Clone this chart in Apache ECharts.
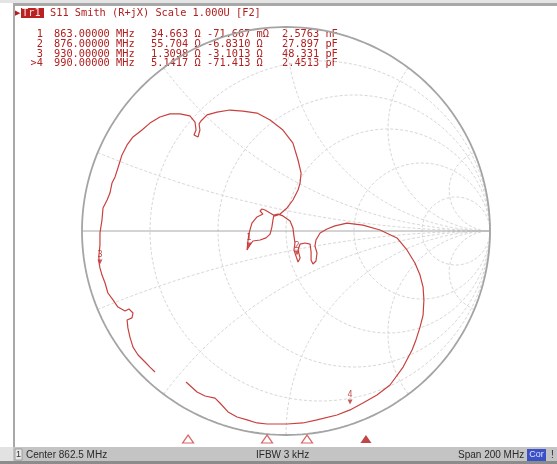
<!DOCTYPE html>
<html><head><meta charset="utf-8">
<script src="https://cdn.jsdelivr.net/npm/echarts@6/dist/echarts.min.js"></script>
<style>html,body{margin:0;padding:0;background:#fff}#c{width:557px;height:464px}</style>
</head><body><div id="c"></div>
<script>
// ---- data (reflection coefficient plane, Re/Im of Gamma) ----
const traceGamma = [
[-0.642,-0.691],[-0.667,-0.667],[-0.691,-0.642],[-0.725,-0.608],[-0.750,-0.569],[-0.765,-0.520],
[-0.775,-0.475],[-0.779,-0.436],[-0.755,-0.426],[-0.750,-0.402],[-0.770,-0.382],[-0.789,-0.392],
[-0.824,-0.373],[-0.848,-0.338],[-0.873,-0.304],[-0.887,-0.255],[-0.902,-0.216],[-0.912,-0.181],
[-0.917,-0.152],[-0.917,-0.118],[-0.912,-0.069],[-0.912,-0.010],[-0.902,0.054],[-0.897,0.113],
[-0.877,0.152],[-0.863,0.186],[-0.853,0.235],[-0.838,0.265],[-0.824,0.309],[-0.804,0.373],
[-0.779,0.422],[-0.750,0.461],[-0.706,0.495],[-0.667,0.529],[-0.618,0.559],[-0.569,0.574],
[-0.520,0.574],[-0.471,0.564],[-0.446,0.534],[-0.441,0.495],[-0.451,0.471],[-0.431,0.461],
[-0.422,0.495],[-0.426,0.525],[-0.417,0.539],[-0.387,0.569],[-0.338,0.583],[-0.275,0.593],
[-0.211,0.588],[-0.142,0.578],[-0.078,0.544],[-0.015,0.495],[0.034,0.431],[0.059,0.348],
[0.074,0.284],[0.069,0.235],[0.059,0.201],[0.034,0.152],[0.005,0.113],[-0.029,0.083],
[-0.054,0.074],[-0.078,0.088],[-0.103,0.103],[-0.118,0.108],[-0.127,0.098],[-0.113,0.083],
[-0.142,0.069],[-0.167,0.039],[-0.181,-0.010],[-0.186,-0.044],[-0.191,-0.093],[-0.181,-0.074],
[-0.162,-0.049],[-0.127,-0.044],[-0.098,-0.034],[-0.078,-0.015],[-0.069,0.020],[-0.064,0.054],
[-0.059,0.078],[-0.039,0.083],[-0.015,0.074],[0.020,0.049],[0.034,0.015],[0.039,-0.025],
[0.044,-0.059],[0.039,-0.093],[0.049,-0.123],[0.059,-0.152],[0.069,-0.132],[0.059,-0.093],
[0.069,-0.064],[0.093,-0.059],[0.118,-0.064],[0.123,-0.103],[0.123,-0.142],[0.132,-0.162],
[0.147,-0.147],[0.152,-0.108],[0.142,-0.074],[0.147,-0.044],[0.167,-0.010],[0.201,0.010],
[0.240,0.025],[0.299,0.039],[0.377,0.029],[0.461,0.005],[0.544,-0.034],[0.593,-0.093],
[0.632,-0.157],[0.657,-0.216],[0.672,-0.275],[0.676,-0.338],[0.672,-0.412],[0.657,-0.471],
[0.637,-0.534],[0.618,-0.583],[0.574,-0.667],[0.510,-0.755],[0.446,-0.804],[0.377,-0.843],
[0.314,-0.877],[0.250,-0.902],[0.152,-0.926],[0.083,-0.941],[0.005,-0.946],[-0.093,-0.946],
[-0.142,-0.941],[-0.191,-0.926],[-0.240,-0.912],[-0.284,-0.887],[-0.324,-0.843],[-0.348,-0.819],
[-0.397,-0.809],[-0.436,-0.789],[-0.490,-0.740]
];
const markerIds   = ['1','2','3','4'];
const markerGamma = [[-0.181,-0.069],[0.054,-0.108],[-0.912,-0.152],[0.314,-0.838]];
const markerStimX = [-0.480,-0.093,0.103,0.392];
const markerRows  = ['1','2','3','>4'];
const markerFreq  = ['863.00000 MHz','876.00000 MHz','930.00000 MHz','990.00000 MHz'];
const markerRes   = ['34.663 Ω','55.704 Ω','1.3098 Ω','5.1417 Ω'];
const markerReact = ['-71.667 mΩ','-6.8310 Ω','-3.1013 Ω','-71.413 Ω'];
const markerLC    = ['2.5763 nF','27.897 pF','48.331 pF','2.4513 pF'];
const rGrid = [0.2, 0.5, 1, 2, 5];
const xGrid = [0.2, 0.5, 1, 2, 5];
const headerText = 'S11 Smith (R+jX) Scale 1.000U [F2]';

// ---- Smith chart grid geometry ----
function gam(r, x) { const d = (r + 1) * (r + 1) + x * x; return [(r * r + x * x - 1) / d, 2 * x / d]; }
function rCircle(r) { const c = r / (1 + r), R = 1 / (1 + r), p = []; for (let i = 0; i <= 240; i++) { const a = i / 240 * 2 * Math.PI; p.push([c + R * Math.cos(a), R * Math.sin(a)]); } return p; }
function xArc(x) { const p = []; for (let i = 0; i < 200; i++) { const r = Math.tan(i / 200 * Math.PI / 2); p.push(gam(r, x)); } p.push([1, 0]); return p; }

const gridStyle = { color: '#d6d6d6', width: 1, type: [3, 2] };
const series = [];
rGrid.forEach(r => series.push({ type: 'line', data: rCircle(r), showSymbol: false, silent: true, lineStyle: gridStyle, z: 1 }));
xGrid.forEach(x => { [x, -x].forEach(v => series.push({ type: 'line', data: xArc(v), showSymbol: false, silent: true, lineStyle: gridStyle, z: 1 })); });
series.push({ type: 'line', data: [[-1, 0], [1, 0]], showSymbol: false, silent: true, lineStyle: { color: '#a8a8a8', width: 1 }, z: 2 });
series.push({ type: 'line', data: rCircle(0), showSymbol: false, silent: true, lineStyle: { color: '#a4a4a4', width: 1.8 }, z: 2 });
series.push({ type: 'line', data: traceGamma, showSymbol: false, lineStyle: { color: '#c8413f', width: 1.2 }, z: 5 });
series.push({
  type: 'scatter', z: 6, symbol: 'triangle', symbolRotate: 180, symbolSize: 5,
  itemStyle: { color: '#c03030' },
  data: markerGamma.map((g, i) => ({ value: g, name: markerIds[i] })),
  label: { show: true, formatter: p => p.name, position: 'top', distance: 1, fontSize: 8, color: '#b02020', fontFamily: 'DejaVu Sans' }
});
series.push({
  type: 'scatter', z: 6, clip: false, symbol: 'triangle', symbolSize: [11, 8],
  data: markerStimX.map((x, i) => ({ value: [x, -1.02], itemStyle: i === markerStimX.length - 1 ? { color: '#b01818' } : { color: '#ffffff', borderColor: '#d04040', borderWidth: 1.2 } }))
});

// ---- annotation texts ----
const mono = '10.3px "DejaVu Sans Mono"';
const red = '#b02020';
const graphic = [
  { type: 'rect', shape: { x: 0, y: 0, width: 557, height: 3 }, style: { fill: '#e4e4e4' } },
  { type: 'rect', shape: { x: 13, y: 3, width: 544, height: 3 }, style: { fill: '#a8a8a8' } },
  { type: 'rect', shape: { x: 13, y: 3, width: 2, height: 444 }, style: { fill: '#a8a8a8' } },
  { type: 'text', style: { text: '▶', x: 15, y: 13, font: '7px "DejaVu Sans"', fill: red, verticalAlign: 'middle' } },
  { type: 'rect', shape: { x: 21, y: 8, width: 23, height: 10 }, style: { fill: '#b82222' } },
  { type: 'text', style: { text: 'Tr1', x: 22, y: 13, font: mono, fill: '#ffe0e0', verticalAlign: 'middle' } },
  { type: 'text', style: { text: headerText, x: 50, y: 13, font: mono, fill: red, verticalAlign: 'middle' } },
  { type: 'rect', shape: { x: 13, y: 447, width: 544, height: 14 }, style: { fill: '#c4c4c4' } },
  { type: 'rect', shape: { x: 0, y: 461, width: 557, height: 3 }, style: { fill: '#8c8c8c' } },
  { type: 'rect', shape: { x: 0, y: 447, width: 13, height: 14 }, style: { fill: '#e2e2e2' } },
  { type: 'rect', shape: { x: 15, y: 449, width: 7, height: 11 }, style: { fill: '#e8e8e8', stroke: '#909090', lineWidth: 0.8 } },
  { type: 'text', style: { text: '1', x: 18.5, y: 455, font: '9px "Liberation Sans"', fill: '#333', align: 'center', verticalAlign: 'middle' } },
  { type: 'text', style: { text: 'Center 862.5 MHz', x: 26, y: 455, font: '10px "Liberation Sans"', fill: '#2a2a2a', verticalAlign: 'middle' } },
  { type: 'text', style: { text: 'IFBW 3 kHz', x: 256, y: 455, font: '10px "Liberation Sans"', fill: '#2a2a2a', verticalAlign: 'middle' } },
  { type: 'text', style: { text: 'Span 200 MHz', x: 458, y: 455, font: '10px "Liberation Sans"', fill: '#2a2a2a', verticalAlign: 'middle' } },
  { type: 'rect', shape: { x: 527, y: 449, width: 19, height: 12 }, style: { fill: '#3c50c8' } },
  { type: 'text', style: { text: 'Cor', x: 536.5, y: 455, font: '9px "Liberation Sans"', fill: '#e0e4ff', align: 'center', verticalAlign: 'middle' } },
  { type: 'text', style: { text: '!', x: 551, y: 455, font: '10px "Liberation Sans"', fill: '#2a2a2a', verticalAlign: 'middle' } }
];
const rowY = [34, 44, 54, 63.5];
markerRows.forEach((m, i) => {
  const y = rowY[i];
  graphic.push({ type: 'text', style: { text: m, x: 43, y, font: mono, fill: red, align: 'right', verticalAlign: 'middle' } });
  graphic.push({ type: 'text', style: { text: markerFreq[i], x: 54, y, font: mono, fill: red, verticalAlign: 'middle' } });
  graphic.push({ type: 'text', style: { text: markerRes[i], x: 151, y, font: mono, fill: red, verticalAlign: 'middle' } });
  graphic.push({ type: 'text', style: { text: markerReact[i], x: 207, y, font: mono, fill: red, verticalAlign: 'middle' } });
  graphic.push({ type: 'text', style: { text: markerLC[i], x: 282, y, font: mono, fill: red, verticalAlign: 'middle' } });
});

const chart = echarts.init(document.getElementById('c'), null, { renderer: 'canvas' });
chart.setOption({
  animation: false,
  backgroundColor: '#ffffff',
  grid: { left: 82, top: 27, width: 408, height: 408 },
  xAxis: { type: 'value', min: -1, max: 1, show: false },
  yAxis: { type: 'value', min: -1, max: 1, show: false },
  series,
  graphic
});
</script></body></html>
